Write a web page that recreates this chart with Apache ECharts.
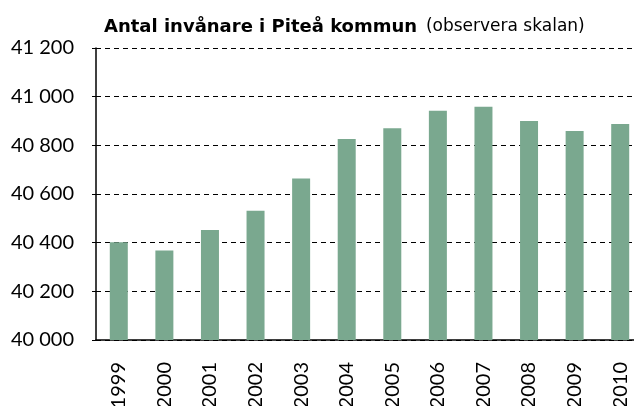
<!DOCTYPE html>
<html>
<head>
<meta charset="utf-8">
<script src="https://cdn.jsdelivr.net/npm/echarts@6/dist/echarts.min.js"></script>
<style>
  html, body { margin: 0; padding: 0; background: #fff; }
  #chart { width: 634px; height: 406px; }
</style>
</head>
<body>
<div id="chart"></div>
<script>
// år och folkmängd
const years = ['1999', '2000', '2001', '2002', '2003', '2004', '2005', '2006', '2007', '2008', '2009', '2010']
const population = [40402, 40368, 40452, 40531, 40664, 40826, 40870, 40942, 40959, 40900, 40859, 40888]

const fmt = (v) => {
  const s = String(v)
  return s.slice(0, s.length - 3) + ' ' + s.slice(-3)
}

const chart = echarts.init(document.getElementById('chart'))

chart.setOption({
  backgroundColor: '#fff',
  animation: false,
  textStyle: { fontFamily: 'Lato' },
  title: {
    text: '{b|Antal invånare i Piteå kommun}  {n|(observera skalan)}',
    left: 99,
    top: 13,
    textStyle: {
      rich: {
        b: { fontFamily: 'DejaVu Sans', fontWeight: 'bold', fontSize: 18, color: '#000' },
        n: { fontFamily: 'DejaVu Sans', fontWeight: 'normal', fontSize: 17, color: '#000' }
      }
    }
  },
  grid: { left: 96, right: -9, top: 48, bottom: 66, outerBoundsMode: 'none' },
  xAxis: {
    type: 'category',
    data: years,
    axisLine: { lineStyle: { color: '#000', width: 1.5 } },
    axisTick: { show: false },
    axisLabel: {
      rotate: 90,
      margin: 22,
      fontSize: 20,
      color: '#000',
      fontFamily: 'Lato'
    }
  },
  yAxis: {
    type: 'value',
    min: 40000,
    max: 41200,
    interval: 200,
    axisLine: { show: true, lineStyle: { color: '#000', width: 1.5 } },
    axisTick: { show: true, length: 4, lineStyle: { color: '#000' } },
    axisLabel: {
      margin: 22,
      fontSize: 20,
      color: '#000',
      fontFamily: 'Lato',
      formatter: fmt
    },
    splitLine: { lineStyle: { color: '#000', type: [5, 4], width: 1 } }
  },
  series: [
    {
      type: 'bar',
      data: population,
      barWidth: 18,
      itemStyle: { color: '#7aa88f' }
    }
  ]
})
</script>
</body>
</html>
